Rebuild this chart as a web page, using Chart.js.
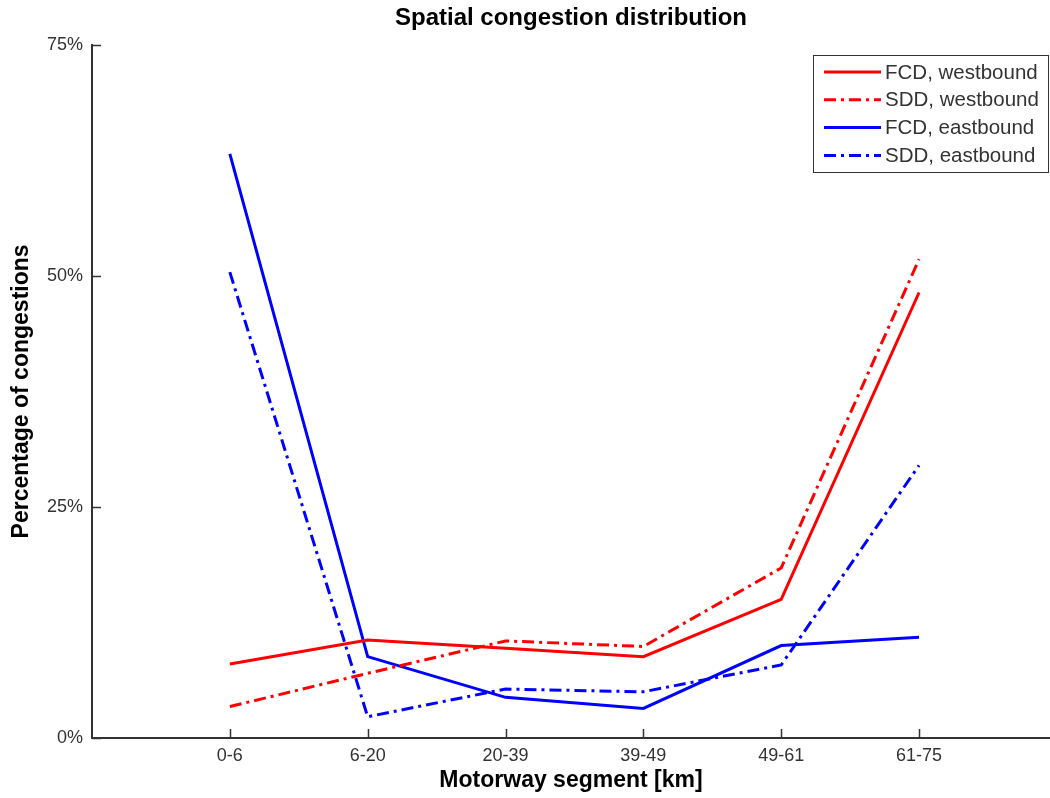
<!DOCTYPE html>
<html>
<head>
<meta charset="utf-8">
<script src="https://cdn.jsdelivr.net/npm/chart.js@4.4.1/dist/chart.umd.min.js"></script>
<style>
  html, body { margin: 0; padding: 0; background: #fff; }
  #myChart { display: block; }
</style>
</head>
<body>
<canvas id="myChart" width="1050" height="798"></canvas>
<script>
const segments = ["0-6", "6-20", "20-39", "39-49", "49-61", "61-75"];
const fcdWest = [8.0, 10.6, 9.7, 8.8, 15.0, 48.2];
const sddWest = [3.4, 7.0, 10.5, 9.9, 18.4, 51.8];
const fcdEast = [63.2, 8.8, 4.4, 3.2, 10.0, 10.9];
const sddEast = [50.4, 2.3, 5.3, 5.0, 7.9, 29.5];
const yTicks = [0, 25, 50, 75];

const axisColor = "#333333";
const fontFamily = "'Liberation Sans', Arial, sans-serif";
const dashDot = [12, 5, 3, 5];

function toPoints(values) {
    return values.map(function (v, i) { return { x: i, y: v }; });
}

// MATLAB style ticks pointing into the plot
const innerTicks = {
    id: "innerTicks",
    afterDatasetsDraw(chart) {
        const ctx = chart.ctx;
        const area = chart.chartArea;
        const xs = chart.scales.x, ys = chart.scales.y;
        ctx.save();
        ctx.strokeStyle = axisColor;
        ctx.lineWidth = 1.5;
        ctx.beginPath();
        segments.forEach(function (s, i) {
            const px = Math.round(xs.getPixelForValue(i)) + 0.5;
            ctx.moveTo(px, area.bottom);
            ctx.lineTo(px, area.bottom - 9);
        });
        yTicks.forEach(function (v) {
            const py = Math.round(ys.getPixelForValue(v)) + 0.5;
            ctx.moveTo(area.left, py);
            ctx.lineTo(area.left + 9, py);
        });
        ctx.stroke();
        ctx.restore();
    }
};

// legend box in the upper right corner
const boxLegend = {
    id: "boxLegend",
    afterDatasetsDraw(chart) {
        const ctx = chart.ctx;
        const x0 = 813, y0 = 55, w = 235, h = 117;
        ctx.save();
        ctx.fillStyle = "#fff";
        ctx.fillRect(x0, y0, w, h);
        ctx.strokeStyle = axisColor;
        ctx.lineWidth = 1;
        ctx.strokeRect(x0 + 0.5, y0 + 0.5, w, h);
        ctx.font = "20.5px " + fontFamily;
        ctx.textBaseline = "middle";
        chart.data.datasets.forEach(function (ds, i) {
            const y = y0 + 17 + i * 27.8;
            ctx.strokeStyle = ds.borderColor;
            ctx.lineWidth = 3;
            ctx.setLineDash(ds.borderDash || []);
            ctx.beginPath();
            ctx.moveTo(x0 + 11, y);
            ctx.lineTo(x0 + 68, y);
            ctx.stroke();
            ctx.setLineDash([]);
            ctx.fillStyle = axisColor;
            ctx.fillText(ds.label, x0 + 72, y + 1);
        });
        ctx.restore();
    }
};

new Chart("myChart", {
    type: "line",
    data: {
        datasets: [
            { label: "FCD, westbound", data: toPoints(fcdWest), borderColor: "#ff0000", borderDash: [] },
            { label: "SDD, westbound", data: toPoints(sddWest), borderColor: "#ff0000", borderDash: dashDot },
            { label: "FCD, eastbound", data: toPoints(fcdEast), borderColor: "#0000ff", borderDash: [] },
            { label: "SDD, eastbound", data: toPoints(sddEast), borderColor: "#0000ff", borderDash: dashDot }
        ]
    },
    options: {
        responsive: false,
        animation: false,
        layout: { padding: 0 },
        elements: {
            line: { borderWidth: 3, tension: 0, fill: false, borderCapStyle: "butt" },
            point: { radius: 0 }
        },
        plugins: {
            legend: { display: false },
            tooltip: { enabled: false },
            title: {
                display: true,
                fullSize: false,
                text: "Spatial congestion distribution",
                color: "#000",
                font: { family: fontFamily, size: 24, weight: "bold" },
                padding: { top: 4, bottom: 12 }
            }
        },
        scales: {
            x: {
                type: "linear",
                min: -1,
                max: 5.95,
                afterBuildTicks(scale) {
                    scale.ticks = segments.map(function (s, i) { return { value: i }; });
                },
                afterFit(scale) { scale.height = 60; },
                ticks: {
                    color: axisColor,
                    padding: 7,
                    maxRotation: 0,
                    autoSkip: false,
                    font: { family: fontFamily, size: 18 },
                    callback: function (v) { return segments[v]; }
                },
                grid: { drawOnChartArea: false, drawTicks: false },
                border: { color: axisColor, width: 2 },
                title: {
                    display: true,
                    text: "Motorway segment [km]",
                    color: "#000",
                    font: { family: fontFamily, size: 23, weight: "bold" },
                    padding: { top: 0, bottom: 4 }
                }
            },
            y: {
                min: 0,
                max: 75,
                afterBuildTicks(scale) {
                    scale.ticks = yTicks.map(function (v) { return { value: v }; });
                },
                afterFit(scale) { scale.width = 92; },
                ticks: {
                    color: axisColor,
                    padding: 9,
                    font: { family: fontFamily, size: 18 },
                    callback: function (v) { return v + "%"; }
                },
                grid: { drawOnChartArea: false, drawTicks: false },
                border: { color: axisColor, width: 2 },
                title: {
                    display: true,
                    text: "Percentage of congestions",
                    color: "#000",
                    font: { family: fontFamily, size: 23, weight: "bold" },
                    padding: { top: 8, bottom: 0 }
                }
            }
        }
    },
    plugins: [innerTicks, boxLegend]
});
</script>
</body>
</html>
